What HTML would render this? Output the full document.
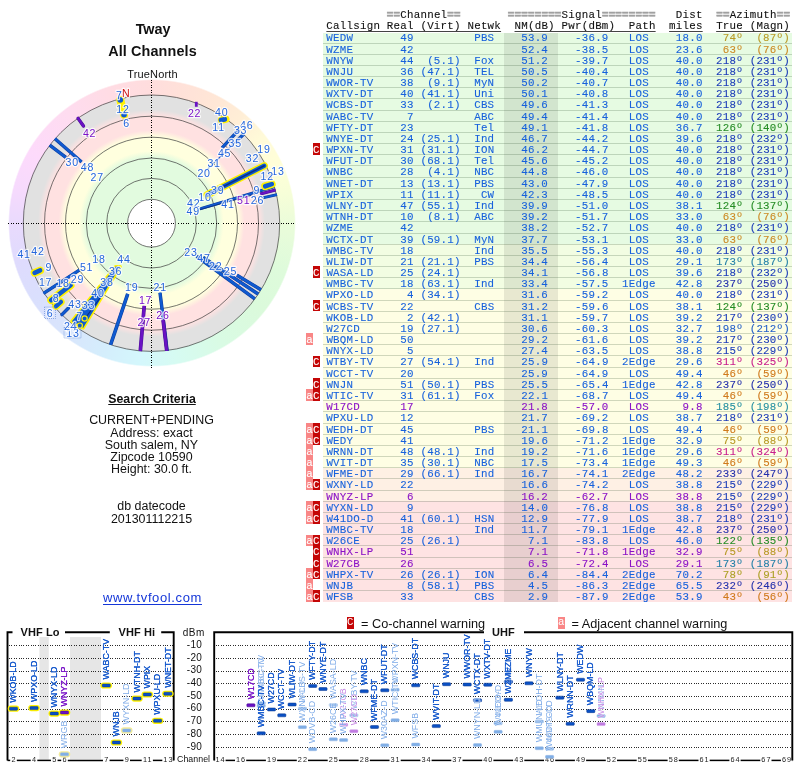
<!DOCTYPE html>
<html><head><meta charset="utf-8"><title>TV Fool - Tway - All Channels</title>
<style>
html,body{margin:0;padding:0;background:#fff}
#pg{will-change:transform;position:relative;width:800px;height:768px;overflow:hidden;background:#fff;font-family:"Liberation Sans", sans-serif;color:#111}
.abs{position:absolute}
.c{position:absolute;left:0;width:303px;text-align:center;white-space:nowrap}
#wheel{position:absolute;left:1.5px;top:73.2px;width:300px;height:300px;border-radius:50%;
background:conic-gradient(from 0deg,#ffdddd 0deg,#ffe1d9 12deg,#ffe7d6 28deg,#ffeed6 40deg,#fffad8 52deg,#ffffd8 66deg,#f6fed8 78deg,#e9fcda 92deg,
#defbdb 110deg,#dbfadb 128deg,#d9fbe4 150deg,#d6fbf2 170deg,#d4f7fc 185deg,#d4eefc 200deg,#d8e6fc 215deg,#dadffd 238deg,
#dfdbfd 254deg,#e9dafd 270deg,#f6dafd 284deg,#fddafb 300deg,#fedcf0 322deg,#ffdce4 342deg,#ffdddd 360deg);
-webkit-mask-image:radial-gradient(circle closest-side,#000 0,#000 94.9%,transparent 95.9%);
mask-image:radial-gradient(circle closest-side,#000 0,#000 94.9%,transparent 95.9%)}
.tr{position:absolute;left:306.2px;height:11.18px;line-height:11.18px;font-family:"Liberation Mono", monospace;font-size:10.8px;letter-spacing:0.24px;white-space:pre;color:#111}
.tr{-webkit-text-stroke:0.1px currentColor}
.tr i{font-style:normal;font-weight:bold;color:#a0a0a0;-webkit-text-stroke:0.7px #a0a0a0}
.tr u{text-decoration:underline;text-underline-offset:1.5px;text-decoration-thickness:0.9px;text-decoration-color:#444}
.hd{color:#111}
.tb{color:#1862dc}
.tp{color:#8a12c6}
.tr b{font-weight:normal;color:#fff}
.fa{background:#f98686}
.fc{background:#c40606}
.lg{position:absolute;width:6.9px;height:11.6px;color:#fff;font-family:"Liberation Mono", monospace;font-size:10.8px;line-height:11.6px;text-align:left;overflow:hidden}
.bg{position:absolute;left:323.1px;width:468.9px}
.ln{position:absolute;left:323.1px;width:469.4px;height:1px;background:rgba(40,70,40,0.21)}
</style></head><body><div id="pg">
<div class="c" style="top:20.6px;left:1.6px;font-size:14.4px;font-weight:bold;line-height:17px">Tway</div>
<div class="c" style="top:42.5px;left:1px;font-size:14.4px;font-weight:bold;line-height:17px;letter-spacing:0.12px">All Channels</div>
<div class="c" style="top:68px;left:1px;font-size:11px;line-height:13px;letter-spacing:0.15px">TrueNorth</div>
<div id="wheel"></div>
<svg class="abs" style="left:0;top:0" width="310" height="384" viewBox="0 0 310 384">
<defs><radialGradient id="zg" gradientUnits="userSpaceOnUse" cx="151.5" cy="223.2" r="129">
<stop offset="0" stop-color="#e2fbdf"/>
<stop offset="0.51" stop-color="#e2fbdf"/>
<stop offset="0.56" stop-color="#ffffde"/>
<stop offset="0.67" stop-color="#ffffde"/>
<stop offset="0.72" stop-color="#ffe1e1"/>
<stop offset="0.83" stop-color="#ffe1e1"/>
<stop offset="0.88" stop-color="#e1e1e1"/>
<stop offset="1" stop-color="#e1e1e1"/>
</radialGradient></defs>
<circle cx="151.5" cy="223.2" r="128" fill="url(#zg)"/>
<circle cx="151.5" cy="223.2" r="23.9" fill="#fff"/>
<circle cx="151.5" cy="223.2" r="23.9" fill="none" stroke="#404040" stroke-width="0.72"/>
<circle cx="151.5" cy="223.2" r="44.8" fill="none" stroke="#404040" stroke-width="0.72"/>
<circle cx="151.5" cy="223.2" r="65.2" fill="none" stroke="#404040" stroke-width="0.72"/>
<circle cx="151.5" cy="223.2" r="86" fill="none" stroke="#404040" stroke-width="0.72"/>
<circle cx="151.5" cy="223.2" r="107" fill="none" stroke="#404040" stroke-width="0.72"/>
<circle cx="151.5" cy="223.2" r="128.2" fill="none" stroke="#404040" stroke-width="0.72"/>
<path d="M8 223.2 H295.5 M151.5 79.5 V367.5" stroke="#000" stroke-width="1" stroke-dasharray="1 1.5" fill="none" shape-rendering="crispEdges"/>
<rect x="194.9" y="101.8" width="2.8" height="5" fill="#6a12c4"/>
<path d="M221.6 120 L225.8 119.2" stroke="#fff200" stroke-width="7.4" stroke-linecap="round"/>
<path d="M221 120 L224.8 119.3" stroke="#0f5ad0" stroke-width="4.8" stroke-linecap="round"/>
<path d="M205.45 171.1 L236.38 141.23" stroke="#0f5ad0" stroke-width="1.1" stroke-linecap="butt" fill="none"/>
<path d="M222.08 147.77 L238.96 129.74" stroke="#0b3a9c" stroke-width="3.3" stroke-linecap="butt" fill="none"/>
<path d="M222.08 147.77 L238.96 129.74" stroke="#0f5ad0" stroke-width="2.3" stroke-linecap="butt" fill="none"/>
<path d="M236.38 141.23 L243.79 134.08" stroke="#0b3a9c" stroke-width="3.3" stroke-linecap="butt" fill="none"/>
<path d="M236.38 141.23 L243.79 134.08" stroke="#0f5ad0" stroke-width="2.3" stroke-linecap="butt" fill="none"/>
<path d="M207.19 194.83 L264.21 165.77" stroke="#fff200" stroke-width="7.4" stroke-linecap="round" fill="none"/>
<path d="M207.19 194.83 L264.21 165.77" stroke="#0f5ad0" stroke-width="4.4" stroke-linecap="round" fill="none"/>
<path d="M222.78 186.88 L264.21 165.77" stroke="#0a2f86" stroke-width="1.5" stroke-linecap="round" fill="none"/>
<path d="M199.8 208.8 L274.64 186.49" stroke="#0b3a9c" stroke-width="2.9" stroke-linecap="butt" fill="none"/>
<path d="M199.8 208.8 L274.64 186.49" stroke="#0f5ad0" stroke-width="1.9" stroke-linecap="butt" fill="none"/>
<path d="M200.04 209.65 L251.67 195.23" stroke="#0a2f86" stroke-width="0.9" stroke-linecap="butt" fill="none"/>
<path d="M262.67 197.94 L277 194.69" stroke="#0b3a9c" stroke-width="2.9" stroke-linecap="butt" fill="none"/>
<path d="M262.67 197.94 L277 194.69" stroke="#0f5ad0" stroke-width="1.9" stroke-linecap="butt" fill="none"/>
<path d="M260.26 194.06 L275.52 189.97" stroke="#4a0c94" stroke-width="3" stroke-linecap="butt" fill="none"/>
<path d="M260.26 194.06 L275.52 189.97" stroke="#6a12c4" stroke-width="2" stroke-linecap="butt" fill="none"/>
<path d="M265.15 186.27 L271.81 184.11" stroke="#fff200" stroke-width="7.8" stroke-linecap="round" fill="none"/>
<path d="M265.15 186.27 L271.81 184.11" stroke="#0f5ad0" stroke-width="4.6" stroke-linecap="round" fill="none"/>
<path d="M124.03 114.62 L120.27 99.79" stroke="#fff200" stroke-width="8" stroke-linecap="round" fill="none"/>
<circle cx="124.03" cy="114.62" r="2.9" fill="#0f5ad0"/>
<circle cx="120.27" cy="99.79" r="2.9" fill="#0f5ad0"/>
<path d="M83.47 126.05 L78.08 118.35" stroke="#4a0c94" stroke-width="3.4" stroke-linecap="round" fill="none"/>
<path d="M83.47 126.05 L78.08 118.35" stroke="#6a12c4" stroke-width="2.4" stroke-linecap="round" fill="none"/>
<path d="M65.82 157.45 L49.71 145.1" stroke="#0b3a9c" stroke-width="3.4" stroke-linecap="butt" fill="none"/>
<path d="M65.82 157.45 L49.71 145.1" stroke="#0f5ad0" stroke-width="2.4" stroke-linecap="butt" fill="none"/>
<path d="M81.53 161.94 L54.97 138.69" stroke="#0b3a9c" stroke-width="3.4" stroke-linecap="butt" fill="none"/>
<path d="M81.53 161.94 L54.97 138.69" stroke="#0f5ad0" stroke-width="2.4" stroke-linecap="butt" fill="none"/>
<path d="M40.12 270.48 L34.6 272.82" stroke="#fff200" stroke-width="7.8" stroke-linecap="round" fill="none"/>
<path d="M40.12 270.48 L34.6 272.82" stroke="#0f5ad0" stroke-width="4.6" stroke-linecap="round" fill="none"/>
<path d="M79.37 270.04 L43.56 293.3" stroke="#0b3a9c" stroke-width="3.3" stroke-linecap="butt" fill="none"/>
<path d="M79.37 270.04 L43.56 293.3" stroke="#0f5ad0" stroke-width="2.3" stroke-linecap="butt" fill="none"/>
<path d="M70.58 285.29 L51.14 300.21" stroke="#fff200" stroke-width="7.8" stroke-linecap="round" fill="none"/>
<path d="M70.58 285.29 L51.14 300.21" stroke="#0f5ad0" stroke-width="4.6" stroke-linecap="round" fill="none"/>
<path d="M60.93 301.93 L56.03 306.19" stroke="#fff200" stroke-width="7.4" stroke-linecap="round" fill="none"/>
<path d="M60.93 301.93 L56.03 306.19" stroke="#0f5ad0" stroke-width="4.4" stroke-linecap="round" fill="none"/>
<path d="M68.24 308.22 L61.94 314.65" stroke="#0b3a9c" stroke-width="3.4" stroke-linecap="round" fill="none"/>
<path d="M68.24 308.22 L61.94 314.65" stroke="#0f5ad0" stroke-width="2.4" stroke-linecap="round" fill="none"/>
<path d="M115.7 266.6 L120.1 266.6 L83.1 327.9 L71.9 321.2 Z" fill="#fff200" stroke="#fff200" stroke-width="3.4" stroke-linejoin="round"/>
<path d="M115.7 266.6 L120.1 266.6 L83.1 327.9 L71.9 321.2 Z" fill="#0f5ad0"/>
<path d="M100 298 L84 320" stroke="#0a2f86" stroke-width="1.2"/>
<circle cx="84.6" cy="318.5" r="2.6" fill="#0f5ad0" stroke="#fff200" stroke-width="1.2"/>
<circle cx="79.8" cy="325.6" r="2.6" fill="#0f5ad0" stroke="#fff200" stroke-width="1.2"/>
<path d="M127.74 293.81 L110.61 344.7" stroke="#0b3a9c" stroke-width="3.6" stroke-linecap="butt" fill="none"/>
<path d="M127.74 293.81 L110.61 344.7" stroke="#0f5ad0" stroke-width="2.6" stroke-linecap="butt" fill="none"/>
<path d="M144.27 305.88 L140.32 351.01" stroke="#4a0c94" stroke-width="3.7" stroke-linecap="butt" fill="none"/>
<path d="M144.27 305.88 L140.32 351.01" stroke="#6a12c4" stroke-width="2.7" stroke-linecap="butt" fill="none"/>
<path d="M160.03 292.68 L167.17 350.84" stroke="#0b3a9c" stroke-width="3.4" stroke-linecap="butt" fill="none"/>
<path d="M160.03 292.68 L167.17 350.84" stroke="#0f5ad0" stroke-width="2.4" stroke-linecap="butt" fill="none"/>
<path d="M162.99 319.52 L166.73 350.9" stroke="#4a0c94" stroke-width="3.6" stroke-linecap="butt" fill="none"/>
<path d="M162.99 319.52 L166.73 350.9" stroke="#6a12c4" stroke-width="2.6" stroke-linecap="butt" fill="none"/>
<path d="M196.69 256.27 L254.79 298.8" stroke="#0b3a9c" stroke-width="3.5" stroke-linecap="butt" fill="none"/>
<path d="M196.69 256.27 L254.79 298.8" stroke="#0f5ad0" stroke-width="2.5" stroke-linecap="butt" fill="none"/>
<path d="M203.14 257.51 L258.11 294.03" stroke="#0b3a9c" stroke-width="3.5" stroke-linecap="butt" fill="none"/>
<path d="M203.14 257.51 L258.11 294.03" stroke="#0f5ad0" stroke-width="2.5" stroke-linecap="butt" fill="none"/>
<path d="M236.95 275.15 L260.87 289.7" stroke="#0b3a9c" stroke-width="3.5" stroke-linecap="butt" fill="none"/>
<path d="M236.95 275.15 L260.87 289.7" stroke="#0f5ad0" stroke-width="2.5" stroke-linecap="butt" fill="none"/>
<g font-family='"Liberation Sans", sans-serif' font-size="10.6" text-anchor="middle" letter-spacing="0.8" stroke="#fff" stroke-opacity="0.78" stroke-width="2.4" stroke-linejoin="round" paint-order="stroke">
<text x="194.6" y="117.3" fill="#7a12c8">22</text>
<text x="221.8" y="116.4" fill="#2466dc">40</text>
<text x="218.6" y="130.8" fill="#2466dc">11</text>
<text x="246.8" y="128.8" fill="#2466dc">46</text>
<text x="240.6" y="133.7" fill="#2466dc">33</text>
<text x="235.3" y="147.1" fill="#2466dc">35</text>
<text x="224.6" y="157.4" fill="#2466dc">45</text>
<text x="214.1" y="167" fill="#2466dc">31</text>
<text x="204.1" y="177.2" fill="#2466dc">20</text>
<text x="263.9" y="153.3" fill="#2466dc">19</text>
<text x="252.5" y="162" fill="#2466dc">32</text>
<text x="277.9" y="175.2" fill="#2466dc">13</text>
<text x="267.2" y="180.4" fill="#2466dc">12</text>
<text x="256.8" y="194" fill="#2466dc">9</text>
<text x="257.4" y="204.1" fill="#2466dc">26</text>
<text x="243.8" y="204.1" fill="#7a12c8">51</text>
<text x="227.9" y="207.8" fill="#2466dc">41</text>
<text x="217.7" y="194" fill="#2466dc">39</text>
<text x="205" y="201.2" fill="#2466dc">10</text>
<text x="193.7" y="207.1" fill="#2466dc">42</text>
<text x="193.3" y="215.2" fill="#2466dc">49</text>
<text x="119.3" y="99.2" fill="#2466dc">7</text>
<text x="126.2" y="97.4" fill="#cc1010">N</text>
<text x="123" y="113" fill="#2466dc">12</text>
<text x="126.5" y="127" fill="#2466dc">6</text>
<text x="89.6" y="136.9" fill="#7a12c8">42</text>
<text x="72.3" y="166.1" fill="#2466dc">30</text>
<text x="87.5" y="170.7" fill="#2466dc">48</text>
<text x="97.3" y="180.5" fill="#2466dc">27</text>
<text x="24.1" y="257.9" fill="#2466dc">41</text>
<text x="38" y="254.9" fill="#2466dc">42</text>
<text x="48.8" y="271.1" fill="#2466dc">9</text>
<text x="45.6" y="286.1" fill="#2466dc">17</text>
<text x="63.1" y="286.5" fill="#2466dc">18</text>
<text x="77.5" y="283.3" fill="#2466dc">29</text>
<text x="86.6" y="271.1" fill="#2466dc">51</text>
<text x="98.9" y="262.9" fill="#2466dc">18</text>
<text x="56" y="302.4" fill="#2466dc">8</text>
<text x="50.1" y="316.7" fill="#2466dc">6</text>
<text x="74.9" y="307.6" fill="#2466dc">43</text>
<text x="123.9" y="263.2" fill="#2466dc">44</text>
<text x="115.6" y="275.2" fill="#2466dc">36</text>
<text x="107" y="286.1" fill="#2466dc">38</text>
<text x="97.9" y="297" fill="#2466dc">40</text>
<text x="88.5" y="309" fill="#2466dc">33</text>
<text x="79.7" y="319.9" fill="#2466dc">7</text>
<text x="72.9" y="336.8" fill="#2466dc">13</text>
<text x="70.8" y="330.4" fill="#2466dc">24</text>
<text x="131.8" y="291" fill="#2466dc">19</text>
<text x="145.6" y="303.6" fill="#7a12c8">17</text>
<text x="144.15" y="325.5" fill="#7a12c8">27</text>
<text x="191" y="256.1" fill="#2466dc">23</text>
<text x="203.9" y="262.3" fill="#2466dc">47</text>
<text x="215.8" y="270.05" fill="#2466dc">22</text>
<text x="230.4" y="275.3" fill="#2466dc">25</text>
<text x="160.2" y="290.5" fill="#2466dc">21</text>
<text x="162.9" y="319.2" fill="#7a12c8">26</text>
</g>
<rect x="44.5" y="307" width="11" height="11.5" fill="none" stroke="#6a8fd8" stroke-width="0.7" stroke-dasharray="1 1"/>
<rect x="64" y="327.5" width="17" height="10.5" fill="none" stroke="#6a8fd8" stroke-width="0.7" stroke-dasharray="1 1"/>
</svg>
<div class="c" style="top:391.5px;left:0.5px;font-size:12.3px;font-weight:bold;line-height:14px;text-decoration:underline;text-underline-offset:1.2px">Search Criteria</div>
<div class="c" style="top:413.2px;font-size:12.45px;line-height:14px">CURRENT+PENDING</div>
<div class="c" style="top:425.5px;font-size:12.45px;line-height:14px">Address: exact</div>
<div class="c" style="top:437.8px;font-size:12.45px;line-height:14px">South salem, NY</div>
<div class="c" style="top:450.1px;font-size:12.45px;line-height:14px">Zipcode 10590</div>
<div class="c" style="top:462.4px;font-size:12.45px;line-height:14px">Height: 30.0 ft.</div>
<div class="c" style="top:499.3px;font-size:12.45px;line-height:14px">db datecode</div>
<div class="c" style="top:511.6px;font-size:12.45px;line-height:14px">201301112215</div>
<div class="c" style="top:589.5px;left:1px;font-size:13px;line-height:15px;letter-spacing:0.62px;color:#1436d8;text-decoration:underline;text-underline-offset:1.5px">www.tvfool.com</div>
<div class="tr hd" style="top:10.2px">            <i>==</i>Channel<i>==</i>       <i>========</i>Signal<i>========</i>   Dist  <i>==</i>Azimuth<i>==</i></div>
<div class="tr hd" style="top:21.4px">   <u>Callsign Real (Virt) Netwk</u>  <u>NM(dB) Pwr(dBm)  Path</u>  <u>miles</u>  <u>True (Magn)</u></div>
<div class="bg" style="top:32.6px;height:10.48px;background:#e6fbe2"></div>
<div class="bg" style="top:43.03px;height:11.23px;background:#e6fbe2"></div>
<div class="bg" style="top:54.2px;height:11.23px;background:#e6fbe2"></div>
<div class="bg" style="top:65.38px;height:11.23px;background:#e6fbe2"></div>
<div class="bg" style="top:76.55px;height:11.23px;background:#e6fbe2"></div>
<div class="bg" style="top:87.73px;height:11.23px;background:#e6fbe2"></div>
<div class="bg" style="top:98.91px;height:11.23px;background:#e6fbe2"></div>
<div class="bg" style="top:110.08px;height:11.23px;background:#e6fbe2"></div>
<div class="bg" style="top:121.26px;height:11.23px;background:#e6fbe2"></div>
<div class="bg" style="top:132.43px;height:11.23px;background:#e6fbe2"></div>
<div class="bg" style="top:143.61px;height:11.23px;background:#e6fbe2"></div>
<div class="bg" style="top:154.79px;height:11.23px;background:#e6fbe2"></div>
<div class="bg" style="top:165.96px;height:11.23px;background:#e6fbe2"></div>
<div class="bg" style="top:177.14px;height:11.23px;background:#e6fbe2"></div>
<div class="bg" style="top:188.31px;height:11.23px;background:#e6fbe2"></div>
<div class="bg" style="top:199.49px;height:11.23px;background:#e6fbe2"></div>
<div class="bg" style="top:210.67px;height:11.23px;background:#e6fbe2"></div>
<div class="bg" style="top:221.84px;height:11.23px;background:#e6fbe2"></div>
<div class="bg" style="top:233.02px;height:11.23px;background:#e6fbe2"></div>
<div class="bg" style="top:244.19px;height:11.23px;background:#f2fde2"></div>
<div class="bg" style="top:255.37px;height:11.23px;background:#f2fde2"></div>
<div class="bg" style="top:266.55px;height:11.23px;background:#f2fde2"></div>
<div class="bg" style="top:277.72px;height:11.23px;background:#f2fde2"></div>
<div class="bg" style="top:288.9px;height:11.23px;background:#fefee4"></div>
<div class="bg" style="top:300.07px;height:11.23px;background:#fefee4"></div>
<div class="bg" style="top:311.25px;height:11.23px;background:#fefee4"></div>
<div class="bg" style="top:322.43px;height:11.23px;background:#fefee4"></div>
<div class="bg" style="top:333.6px;height:11.23px;background:#fefee4"></div>
<div class="bg" style="top:344.78px;height:11.23px;background:#fefee4"></div>
<div class="bg" style="top:355.95px;height:11.23px;background:#fefee4"></div>
<div class="bg" style="top:367.13px;height:11.23px;background:#fefee4"></div>
<div class="bg" style="top:378.31px;height:11.23px;background:#fefee4"></div>
<div class="bg" style="top:389.48px;height:11.23px;background:#fefee4"></div>
<div class="bg" style="top:400.66px;height:11.23px;background:#fefee4"></div>
<div class="bg" style="top:411.83px;height:11.23px;background:#fefee4"></div>
<div class="bg" style="top:423.01px;height:11.23px;background:#fefee4"></div>
<div class="bg" style="top:434.19px;height:11.23px;background:#fefee4"></div>
<div class="bg" style="top:445.36px;height:11.23px;background:#fefee4"></div>
<div class="bg" style="top:456.54px;height:11.23px;background:#fefee4"></div>
<div class="bg" style="top:467.71px;height:11.23px;background:#fef0e4"></div>
<div class="bg" style="top:478.89px;height:11.23px;background:#fef0e4"></div>
<div class="bg" style="top:490.07px;height:11.23px;background:#fef0e4"></div>
<div class="bg" style="top:501.24px;height:11.23px;background:#fee3e3"></div>
<div class="bg" style="top:512.42px;height:11.23px;background:#fee3e3"></div>
<div class="bg" style="top:523.59px;height:11.23px;background:#fee3e3"></div>
<div class="bg" style="top:534.77px;height:11.23px;background:#fee3e3"></div>
<div class="bg" style="top:545.95px;height:11.23px;background:#fee3e3"></div>
<div class="bg" style="top:557.12px;height:11.23px;background:#fee3e3"></div>
<div class="bg" style="top:568.3px;height:11.23px;background:#fee3e3"></div>
<div class="bg" style="top:579.47px;height:11.23px;background:#fee3e3"></div>
<div class="bg" style="top:590.65px;height:11.23px;background:#fee3e3"></div>
<div class="abs" style="left:503.8px;top:32.6px;width:54.3px;height:569.23px;background:rgba(0,0,0,0.085)"></div>
<div class="ln" style="top:42.53px"></div>
<div class="ln" style="top:53.7px"></div>
<div class="ln" style="top:64.88px"></div>
<div class="ln" style="top:76.05px"></div>
<div class="ln" style="top:87.23px"></div>
<div class="ln" style="top:98.41px"></div>
<div class="ln" style="top:109.58px"></div>
<div class="ln" style="top:120.76px"></div>
<div class="ln" style="top:131.93px"></div>
<div class="ln" style="top:143.11px"></div>
<div class="ln" style="top:154.29px"></div>
<div class="ln" style="top:165.46px"></div>
<div class="ln" style="top:176.64px"></div>
<div class="ln" style="top:187.81px"></div>
<div class="ln" style="top:198.99px"></div>
<div class="ln" style="top:210.17px"></div>
<div class="ln" style="top:221.34px"></div>
<div class="ln" style="top:232.52px"></div>
<div class="ln" style="top:243.69px"></div>
<div class="ln" style="top:254.87px"></div>
<div class="ln" style="top:266.05px"></div>
<div class="ln" style="top:277.22px"></div>
<div class="ln" style="top:288.4px"></div>
<div class="ln" style="top:299.57px"></div>
<div class="ln" style="top:310.75px"></div>
<div class="ln" style="top:321.93px"></div>
<div class="ln" style="top:333.1px"></div>
<div class="ln" style="top:344.28px"></div>
<div class="ln" style="top:355.45px"></div>
<div class="ln" style="top:366.63px"></div>
<div class="ln" style="top:377.81px"></div>
<div class="ln" style="top:388.98px"></div>
<div class="ln" style="top:400.16px"></div>
<div class="ln" style="top:411.33px"></div>
<div class="ln" style="top:422.51px"></div>
<div class="ln" style="top:433.69px"></div>
<div class="ln" style="top:444.86px"></div>
<div class="ln" style="top:456.04px"></div>
<div class="ln" style="top:467.21px"></div>
<div class="ln" style="top:478.39px"></div>
<div class="ln" style="top:489.57px"></div>
<div class="ln" style="top:500.74px"></div>
<div class="ln" style="top:511.92px"></div>
<div class="ln" style="top:523.09px"></div>
<div class="ln" style="top:534.27px"></div>
<div class="ln" style="top:545.45px"></div>
<div class="ln" style="top:556.62px"></div>
<div class="ln" style="top:567.8px"></div>
<div class="ln" style="top:578.97px"></div>
<div class="ln" style="top:590.15px"></div>
<div class="tr" style="top:33.35px">   <span class="tb">WEDW       49         PBS    53.9    -36.9   LOS    18.0  </span><span style="color:#b89a26"> 74º  (87º)</span></div>
<div class="tr" style="top:44.53px">   <span class="tb">WZME       42                52.4    -38.5   LOS    23.6  </span><span style="color:#cc8a24"> 63º  (76º)</span></div>
<div class="tr" style="top:55.7px">   <span class="tb">WNYW       44  (5.1)  Fox    51.2    -39.7   LOS    40.0  </span><span style="color:#1c3cb8">218º (231º)</span></div>
<div class="tr" style="top:66.88px">   <span class="tb">WNJU       36 (47.1)  TEL    50.5    -40.4   LOS    40.0  </span><span style="color:#1c3cb8">218º (231º)</span></div>
<div class="tr" style="top:78.05px">   <span class="tb">WWOR-TV    38  (9.1)  MyN    50.2    -40.7   LOS    40.0  </span><span style="color:#1c3cb8">218º (231º)</span></div>
<div class="tr" style="top:89.23px">   <span class="tb">WXTV-DT    40 (41.1)  Uni    50.1    -40.8   LOS    40.0  </span><span style="color:#1c3cb8">218º (231º)</span></div>
<div class="tr" style="top:100.41px">   <span class="tb">WCBS-DT    33  (2.1)  CBS    49.6    -41.3   LOS    40.0  </span><span style="color:#1c3cb8">218º (231º)</span></div>
<div class="tr" style="top:111.58px">   <span class="tb">WABC-TV     7         ABC    49.4    -41.4   LOS    40.0  </span><span style="color:#1c3cb8">218º (231º)</span></div>
<div class="tr" style="top:122.76px">   <span class="tb">WFTY-DT    23         Tel    49.1    -41.8   LOS    36.7  </span><span style="color:#258c25">126º (140º)</span></div>
<div class="tr" style="top:133.93px">   <span class="tb">WNYE-DT    24 (25.1)  Ind    46.7    -44.2   LOS    39.6  </span><span style="color:#1c3cb8">218º (232º)</span></div>
<div class="abs fc" style="left:312.93px;top:143.41px;width:6.88px;height:11.38px"></div>
<div class="tr" style="top:145.11px"> <b>C</b> <span class="tb">WPXN-TV    31 (31.1)  ION    46.2    -44.7   LOS    40.0  </span><span style="color:#1c3cb8">218º (231º)</span></div>
<div class="tr" style="top:156.29px">   <span class="tb">WFUT-DT    30 (68.1)  Tel    45.6    -45.2   LOS    40.0  </span><span style="color:#1c3cb8">218º (231º)</span></div>
<div class="tr" style="top:167.46px">   <span class="tb">WNBC       28  (4.1)  NBC    44.8    -46.0   LOS    40.0  </span><span style="color:#1c3cb8">218º (231º)</span></div>
<div class="tr" style="top:178.64px">   <span class="tb">WNET-DT    13 (13.1)  PBS    43.0    -47.9   LOS    40.0  </span><span style="color:#1c3cb8">218º (231º)</span></div>
<div class="tr" style="top:189.81px">   <span class="tb">WPIX       11 (11.1)   CW    42.3    -48.5   LOS    40.0  </span><span style="color:#1c3cb8">218º (231º)</span></div>
<div class="tr" style="top:200.99px">   <span class="tb">WLNY-DT    47 (55.1)  Ind    39.9    -51.0   LOS    38.1  </span><span style="color:#258c25">124º (137º)</span></div>
<div class="tr" style="top:212.17px">   <span class="tb">WTNH-DT    10  (8.1)  ABC    39.2    -51.7   LOS    33.0  </span><span style="color:#cc8a24"> 63º  (76º)</span></div>
<div class="tr" style="top:223.34px">   <span class="tb">WZME       42                38.2    -52.7   LOS    40.0  </span><span style="color:#1c3cb8">218º (231º)</span></div>
<div class="tr" style="top:234.52px">   <span class="tb">WCTX-DT    39 (59.1)  MyN    37.7    -53.1   LOS    33.0  </span><span style="color:#cc8a24"> 63º  (76º)</span></div>
<div class="tr" style="top:245.69px">   <span class="tb">WMBC-TV    18         Ind    35.5    -55.3   LOS    40.0  </span><span style="color:#1c3cb8">218º (231º)</span></div>
<div class="tr" style="top:256.87px">   <span class="tb">WLIW-DT    21 (21.1)  PBS    34.4    -56.4   LOS    29.1  </span><span style="color:#2480a8">173º (187º)</span></div>
<div class="abs fc" style="left:312.93px;top:266.35px;width:6.88px;height:11.38px"></div>
<div class="tr" style="top:268.05px"> <b>C</b> <span class="tb">WASA-LD    25 (24.1)         34.1    -56.8   LOS    39.6  </span><span style="color:#1c3cb8">218º (232º)</span></div>
<div class="tr" style="top:279.22px">   <span class="tb">WMBC-TV    18 (63.1)  Ind    33.4    -57.5  1Edge   42.8  </span><span style="color:#2430ac">237º (250º)</span></div>
<div class="tr" style="top:290.4px">   <span class="tb">WPXO-LD     4 (34.1)         31.6    -59.2   LOS    40.0  </span><span style="color:#1c3cb8">218º (231º)</span></div>
<div class="abs fc" style="left:312.93px;top:299.87px;width:6.88px;height:11.38px"></div>
<div class="tr" style="top:301.57px"> <b>C</b> <span class="tb">WCBS-TV    22         CBS    31.2    -59.6   LOS    38.1  </span><span style="color:#258c25">124º (137º)</span></div>
<div class="tr" style="top:312.75px">   <span class="tb">WKOB-LD     2 (42.1)         31.1    -59.7   LOS    39.2  </span><span style="color:#1c3cb8">217º (230º)</span></div>
<div class="tr" style="top:323.93px">   <span class="tb">W27CD      19 (27.1)         30.6    -60.3   LOS    32.7  </span><span style="color:#2460c8">198º (212º)</span></div>
<div class="abs fa" style="left:306.25px;top:333.4px;width:6.72px;height:11.38px"></div>
<div class="tr" style="top:335.1px"><b>a</b>  <span class="tb">WBQM-LD    50                29.2    -61.6   LOS    39.2  </span><span style="color:#1c3cb8">217º (230º)</span></div>
<div class="tr" style="top:346.28px">   <span class="tb">WNYX-LD     5                27.4    -63.5   LOS    38.8  </span><span style="color:#1c3cb8">215º (229º)</span></div>
<div class="abs fc" style="left:312.93px;top:355.75px;width:6.88px;height:11.38px"></div>
<div class="tr" style="top:357.45px"> <b>C</b> <span class="tb">WTBY-TV    27 (54.1)  Ind    25.9    -64.9  2Edge   29.6  </span><span style="color:#c81e8c">311º (325º)</span></div>
<div class="tr" style="top:368.63px">   <span class="tb">WCCT-TV    20                25.9    -64.9   LOS    49.4  </span><span style="color:#d07a1c"> 46º  (59º)</span></div>
<div class="abs fc" style="left:312.93px;top:378.11px;width:6.88px;height:11.38px"></div>
<div class="tr" style="top:379.81px"> <b>C</b> <span class="tb">WNJN       51 (50.1)  PBS    25.5    -65.4  1Edge   42.8  </span><span style="color:#2430ac">237º (250º)</span></div>
<div class="abs fa" style="left:306.25px;top:389.28px;width:6.72px;height:11.38px"></div>
<div class="abs fc" style="left:312.93px;top:389.28px;width:6.88px;height:11.38px"></div>
<div class="tr" style="top:390.98px"><b>a</b><b>C</b> <span class="tb">WTIC-TV    31 (61.1)  Fox    22.1    -68.7   LOS    49.4  </span><span style="color:#d07a1c"> 46º  (59º)</span></div>
<div class="tr" style="top:402.16px">   <span class="tp">W17CD      17                21.8    -57.0   LOS     9.8  </span><span style="color:#2590a2">185º (198º)</span></div>
<div class="tr" style="top:413.33px">   <span class="tb">WPXU-LD    12                21.7    -69.2   LOS    38.7  </span><span style="color:#1c3cb8">218º (231º)</span></div>
<div class="abs fa" style="left:306.25px;top:422.81px;width:6.72px;height:11.38px"></div>
<div class="abs fc" style="left:312.93px;top:422.81px;width:6.88px;height:11.38px"></div>
<div class="tr" style="top:424.51px"><b>a</b><b>C</b> <span class="tb">WEDH-DT    45         PBS    21.1    -69.8   LOS    49.4  </span><span style="color:#d07a1c"> 46º  (59º)</span></div>
<div class="abs fa" style="left:306.25px;top:433.99px;width:6.72px;height:11.38px"></div>
<div class="abs fc" style="left:312.93px;top:433.99px;width:6.88px;height:11.38px"></div>
<div class="tr" style="top:435.69px"><b>a</b><b>C</b> <span class="tb">WEDY       41                19.6    -71.2  1Edge   32.9  </span><span style="color:#b89a26"> 75º  (88º)</span></div>
<div class="abs fa" style="left:306.25px;top:445.16px;width:6.72px;height:11.38px"></div>
<div class="tr" style="top:446.86px"><b>a</b>  <span class="tb">WRNN-DT    48 (48.1)  Ind    19.2    -71.6  1Edge   29.6  </span><span style="color:#c81e8c">311º (324º)</span></div>
<div class="abs fa" style="left:306.25px;top:456.34px;width:6.72px;height:11.38px"></div>
<div class="tr" style="top:458.04px"><b>a</b>  <span class="tb">WVIT-DT    35 (30.1)  NBC    17.5    -73.4  1Edge   49.3  </span><span style="color:#d07a1c"> 46º  (59º)</span></div>
<div class="abs fa" style="left:306.25px;top:467.51px;width:6.72px;height:11.38px"></div>
<div class="tr" style="top:469.21px"><b>a</b>  <span class="tb">WFME-DT    29 (66.1)  Ind    16.7    -74.1  2Edge   48.2  </span><span style="color:#2430ac">233º (247º)</span></div>
<div class="abs fa" style="left:306.25px;top:478.69px;width:6.72px;height:11.38px"></div>
<div class="abs fc" style="left:312.93px;top:478.69px;width:6.88px;height:11.38px"></div>
<div class="tr" style="top:480.39px"><b>a</b><b>C</b> <span class="tb">WXNY-LD    22                16.6    -74.2   LOS    38.8  </span><span style="color:#1c3cb8">215º (229º)</span></div>
<div class="tr" style="top:491.57px">   <span class="tp">WNYZ-LP     6                16.2    -62.7   LOS    38.8  </span><span style="color:#1c3cb8">215º (229º)</span></div>
<div class="abs fa" style="left:306.25px;top:501.04px;width:6.72px;height:11.38px"></div>
<div class="abs fc" style="left:312.93px;top:501.04px;width:6.88px;height:11.38px"></div>
<div class="tr" style="top:502.74px"><b>a</b><b>C</b> <span class="tb">WYXN-LD     9                14.0    -76.8   LOS    38.8  </span><span style="color:#1c3cb8">215º (229º)</span></div>
<div class="abs fa" style="left:306.25px;top:512.22px;width:6.72px;height:11.38px"></div>
<div class="abs fc" style="left:312.93px;top:512.22px;width:6.88px;height:11.38px"></div>
<div class="tr" style="top:513.92px"><b>a</b><b>C</b> <span class="tb">W41DO-D    41 (60.1)  HSN    12.9    -77.9   LOS    38.7  </span><span style="color:#1c3cb8">218º (231º)</span></div>
<div class="tr" style="top:525.09px">   <span class="tb">WMBC-TV    18         Ind    11.7    -79.1  1Edge   42.8  </span><span style="color:#2430ac">237º (250º)</span></div>
<div class="abs fa" style="left:306.25px;top:534.57px;width:6.72px;height:11.38px"></div>
<div class="abs fc" style="left:312.93px;top:534.57px;width:6.88px;height:11.38px"></div>
<div class="tr" style="top:536.27px"><b>a</b><b>C</b> <span class="tb">W26CE      25 (26.1)          7.1    -83.8   LOS    46.0  </span><span style="color:#258c25">122º (135º)</span></div>
<div class="abs fc" style="left:312.93px;top:545.75px;width:6.88px;height:11.38px"></div>
<div class="tr" style="top:547.45px"> <b>C</b> <span class="tp">WNHX-LP    51                 7.1    -71.8  1Edge   32.9  </span><span style="color:#b89a26"> 75º  (88º)</span></div>
<div class="abs fc" style="left:312.93px;top:556.92px;width:6.88px;height:11.38px"></div>
<div class="tr" style="top:558.62px"> <b>C</b> <span class="tp">W27CB      26                 6.5    -72.4   LOS    29.1  </span><span style="color:#2480a8">173º (187º)</span></div>
<div class="abs fa" style="left:306.25px;top:568.1px;width:6.72px;height:11.38px"></div>
<div class="abs fc" style="left:312.93px;top:568.1px;width:6.88px;height:11.38px"></div>
<div class="tr" style="top:569.8px"><b>a</b><b>C</b> <span class="tb">WHPX-TV    26 (26.1)  ION     6.4    -84.4  2Edge   70.2  </span><span style="color:#aca024"> 78º  (91º)</span></div>
<div class="abs fa" style="left:306.25px;top:579.27px;width:6.72px;height:11.38px"></div>
<div class="tr" style="top:580.97px"><b>a</b>  <span class="tb">WNJB        8 (58.1)  PBS     4.5    -86.3  2Edge   65.5  </span><span style="color:#2430ac">232º (246º)</span></div>
<div class="abs fa" style="left:306.25px;top:590.45px;width:6.72px;height:11.38px"></div>
<div class="abs fc" style="left:312.93px;top:590.45px;width:6.88px;height:11.38px"></div>
<div class="tr" style="top:592.15px"><b>a</b><b>C</b> <span class="tb">WFSB       33         CBS     2.9    -87.9  2Edge   53.9  </span><span style="color:#d07a1c"> 43º  (56º)</span></div>
<div class="lg fc" style="left:347px;top:617.4px">C</div>
<div class="abs" style="left:361px;top:616.7px;font-size:12.7px;line-height:15px;white-space:nowrap;letter-spacing:0.02px">= Co-channel warning</div>
<div class="lg fa" style="left:558px;top:617.4px">a</div>
<div class="abs" style="left:571.4px;top:616.7px;font-size:12.7px;line-height:15px;white-space:nowrap;letter-spacing:0.02px">= Adjacent channel warning</div>
<svg class="abs" style="left:0;top:608px" width="800" height="160" viewBox="0 608 800 160">
<rect x="39.4" y="637" width="9.4" height="122.5" fill="#e6e6e6"/>
<rect x="70" y="637" width="31" height="122.5" fill="#e6e6e6"/>
<path d="M9 645.6 H173 M216 645.6 H792" stroke="#2a2a2a" stroke-width="1" stroke-dasharray="1 1.4" fill="none" shape-rendering="crispEdges"/>
<path d="M9 658.3 H173 M216 658.3 H792" stroke="#2a2a2a" stroke-width="1" stroke-dasharray="1 1.4" fill="none" shape-rendering="crispEdges"/>
<path d="M9 671 H173 M216 671 H792" stroke="#2a2a2a" stroke-width="1" stroke-dasharray="1 1.4" fill="none" shape-rendering="crispEdges"/>
<path d="M9 683.7 H173 M216 683.7 H792" stroke="#2a2a2a" stroke-width="1" stroke-dasharray="1 1.4" fill="none" shape-rendering="crispEdges"/>
<path d="M9 696.4 H173 M216 696.4 H792" stroke="#2a2a2a" stroke-width="1" stroke-dasharray="1 1.4" fill="none" shape-rendering="crispEdges"/>
<path d="M9 709.1 H173 M216 709.1 H792" stroke="#2a2a2a" stroke-width="1" stroke-dasharray="1 1.4" fill="none" shape-rendering="crispEdges"/>
<path d="M9 721.8 H173 M216 721.8 H792" stroke="#2a2a2a" stroke-width="1" stroke-dasharray="1 1.4" fill="none" shape-rendering="crispEdges"/>
<path d="M9 734.5 H173 M216 734.5 H792" stroke="#2a2a2a" stroke-width="1" stroke-dasharray="1 1.4" fill="none" shape-rendering="crispEdges"/>
<path d="M9 747.2 H173 M216 747.2 H792" stroke="#2a2a2a" stroke-width="1" stroke-dasharray="1 1.4" fill="none" shape-rendering="crispEdges"/>
<path d="M12.5 632.3 H7.5 V760.5" stroke="#000" stroke-width="1.9" fill="none"/>
<path d="M65 632.3 H109.8" stroke="#000" stroke-width="1.9" fill="none"/>
<path d="M161.2 632.3 H173.7 V760.5" stroke="#000" stroke-width="1.9" fill="none"/>
<path d="M214.2 760.5 V632.3 H484" stroke="#000" stroke-width="1.9" fill="none"/>
<path d="M524 632.3 H792.3 V760.5" stroke="#000" stroke-width="1.9" fill="none"/>
<path d="M7.5 760.4 H10.2" stroke="#000" stroke-width="1.5"/>
<path d="M16.8 760.4 H30.7" stroke="#000" stroke-width="1.5"/>
<path d="M37.3 760.4 H50.95" stroke="#000" stroke-width="1.5"/>
<path d="M57.55 760.4 H61.2" stroke="#000" stroke-width="1.5"/>
<path d="M67.8 760.4 H102.95" stroke="#000" stroke-width="1.5"/>
<path d="M109.55 760.4 H123.4" stroke="#000" stroke-width="1.5"/>
<path d="M130 760.4 H141.7" stroke="#000" stroke-width="1.5"/>
<path d="M152.9 760.4 H162.3" stroke="#000" stroke-width="1.5"/>
<path d="M173.5 760.4 H173.7" stroke="#000" stroke-width="1.5"/>
<text x="14" y="762" font-family='"Liberation Sans", sans-serif' font-size="7.3" text-anchor="middle" letter-spacing="1" fill="#222">2</text>
<text x="34.5" y="762" font-family='"Liberation Sans", sans-serif' font-size="7.3" text-anchor="middle" letter-spacing="1" fill="#222">4</text>
<text x="54.75" y="762" font-family='"Liberation Sans", sans-serif' font-size="7.3" text-anchor="middle" letter-spacing="1" fill="#222">5</text>
<text x="65" y="762" font-family='"Liberation Sans", sans-serif' font-size="7.3" text-anchor="middle" letter-spacing="1" fill="#222">6</text>
<text x="106.75" y="762" font-family='"Liberation Sans", sans-serif' font-size="7.3" text-anchor="middle" letter-spacing="1" fill="#222">7</text>
<text x="127.2" y="762" font-family='"Liberation Sans", sans-serif' font-size="7.3" text-anchor="middle" letter-spacing="1" fill="#222">9</text>
<text x="147.8" y="762" font-family='"Liberation Sans", sans-serif' font-size="7.3" text-anchor="middle" letter-spacing="1" fill="#222">11</text>
<text x="168.4" y="762" font-family='"Liberation Sans", sans-serif' font-size="7.3" text-anchor="middle" letter-spacing="1" fill="#222">13</text>
<path d="M214.2 760.4 H214.4" stroke="#000" stroke-width="1.5"/>
<path d="M225.6 760.4 H235" stroke="#000" stroke-width="1.5"/>
<path d="M246.2 760.4 H265.9" stroke="#000" stroke-width="1.5"/>
<path d="M277.1 760.4 H296.8" stroke="#000" stroke-width="1.5"/>
<path d="M308 760.4 H327.7" stroke="#000" stroke-width="1.5"/>
<path d="M338.9 760.4 H358.6" stroke="#000" stroke-width="1.5"/>
<path d="M369.8 760.4 H389.5" stroke="#000" stroke-width="1.5"/>
<path d="M400.7 760.4 H420.4" stroke="#000" stroke-width="1.5"/>
<path d="M431.6 760.4 H451.3" stroke="#000" stroke-width="1.5"/>
<path d="M462.5 760.4 H482.2" stroke="#000" stroke-width="1.5"/>
<path d="M493.4 760.4 H513.1" stroke="#000" stroke-width="1.5"/>
<path d="M524.3 760.4 H544" stroke="#000" stroke-width="1.5"/>
<path d="M555.2 760.4 H574.9" stroke="#000" stroke-width="1.5"/>
<path d="M586.1 760.4 H605.8" stroke="#000" stroke-width="1.5"/>
<path d="M617 760.4 H636.7" stroke="#000" stroke-width="1.5"/>
<path d="M647.9 760.4 H667.6" stroke="#000" stroke-width="1.5"/>
<path d="M678.8 760.4 H698.5" stroke="#000" stroke-width="1.5"/>
<path d="M709.7 760.4 H729.4" stroke="#000" stroke-width="1.5"/>
<path d="M740.6 760.4 H760.3" stroke="#000" stroke-width="1.5"/>
<path d="M771.5 760.4 H780.9" stroke="#000" stroke-width="1.5"/>
<path d="M792.1 760.4 H792.3" stroke="#000" stroke-width="1.5"/>
<text x="220.5" y="762" font-family='"Liberation Sans", sans-serif' font-size="7.3" text-anchor="middle" letter-spacing="1" fill="#222">14</text>
<text x="241.1" y="762" font-family='"Liberation Sans", sans-serif' font-size="7.3" text-anchor="middle" letter-spacing="1" fill="#222">16</text>
<text x="272" y="762" font-family='"Liberation Sans", sans-serif' font-size="7.3" text-anchor="middle" letter-spacing="1" fill="#222">19</text>
<text x="302.9" y="762" font-family='"Liberation Sans", sans-serif' font-size="7.3" text-anchor="middle" letter-spacing="1" fill="#222">22</text>
<text x="333.8" y="762" font-family='"Liberation Sans", sans-serif' font-size="7.3" text-anchor="middle" letter-spacing="1" fill="#222">25</text>
<text x="364.7" y="762" font-family='"Liberation Sans", sans-serif' font-size="7.3" text-anchor="middle" letter-spacing="1" fill="#222">28</text>
<text x="395.6" y="762" font-family='"Liberation Sans", sans-serif' font-size="7.3" text-anchor="middle" letter-spacing="1" fill="#222">31</text>
<text x="426.5" y="762" font-family='"Liberation Sans", sans-serif' font-size="7.3" text-anchor="middle" letter-spacing="1" fill="#222">34</text>
<text x="457.4" y="762" font-family='"Liberation Sans", sans-serif' font-size="7.3" text-anchor="middle" letter-spacing="1" fill="#222">37</text>
<text x="488.3" y="762" font-family='"Liberation Sans", sans-serif' font-size="7.3" text-anchor="middle" letter-spacing="1" fill="#222">40</text>
<text x="519.2" y="762" font-family='"Liberation Sans", sans-serif' font-size="7.3" text-anchor="middle" letter-spacing="1" fill="#222">43</text>
<text x="550.1" y="762" font-family='"Liberation Sans", sans-serif' font-size="7.3" text-anchor="middle" letter-spacing="1" fill="#222">46</text>
<text x="581" y="762" font-family='"Liberation Sans", sans-serif' font-size="7.3" text-anchor="middle" letter-spacing="1" fill="#222">49</text>
<text x="611.9" y="762" font-family='"Liberation Sans", sans-serif' font-size="7.3" text-anchor="middle" letter-spacing="1" fill="#222">52</text>
<text x="642.8" y="762" font-family='"Liberation Sans", sans-serif' font-size="7.3" text-anchor="middle" letter-spacing="1" fill="#222">55</text>
<text x="673.7" y="762" font-family='"Liberation Sans", sans-serif' font-size="7.3" text-anchor="middle" letter-spacing="1" fill="#222">58</text>
<text x="704.6" y="762" font-family='"Liberation Sans", sans-serif' font-size="7.3" text-anchor="middle" letter-spacing="1" fill="#222">61</text>
<text x="735.5" y="762" font-family='"Liberation Sans", sans-serif' font-size="7.3" text-anchor="middle" letter-spacing="1" fill="#222">64</text>
<text x="766.4" y="762" font-family='"Liberation Sans", sans-serif' font-size="7.3" text-anchor="middle" letter-spacing="1" fill="#222">67</text>
<text x="787" y="762" font-family='"Liberation Sans", sans-serif' font-size="7.3" text-anchor="middle" letter-spacing="1" fill="#222">69</text>
<g font-family='"Liberation Sans", sans-serif' font-weight="bold" font-size="11" fill="#111">
<text x="20.5" y="635.8" letter-spacing="0.1">VHF Lo</text>
<text x="118.5" y="635.8" letter-spacing="0.1">VHF Hi</text>
<text x="492" y="635.8" letter-spacing="0.1">UHF</text>
</g>
<g font-family='"Liberation Sans", sans-serif' font-size="10" letter-spacing="0.3" fill="#111">
<text x="182.8" y="635.7" letter-spacing="0.5">dBm</text>
<text x="202.2" y="647.9" text-anchor="end">-10</text>
<text x="202.2" y="660.6" text-anchor="end">-20</text>
<text x="202.2" y="673.3" text-anchor="end">-30</text>
<text x="202.2" y="686" text-anchor="end">-40</text>
<text x="202.2" y="698.7" text-anchor="end">-50</text>
<text x="202.2" y="711.4" text-anchor="end">-60</text>
<text x="202.2" y="724.1" text-anchor="end">-70</text>
<text x="202.2" y="736.8" text-anchor="end">-80</text>
<text x="202.2" y="749.5" text-anchor="end">-90</text>
<text x="177" y="762" font-size="8.8" letter-spacing="0.05">Channel</text>
</g>
<rect x="576.4" y="678.26" width="8.2" height="3" rx="0.9" fill="#0a50c4" stroke="#06348c" stroke-width="0.5"/>
<text transform="translate(583.15 673.76) rotate(-90) scale(0.935 1)" font-family='"Liberation Sans", sans-serif' font-size="9.5" fill="#1458cc" stroke="#fff" stroke-opacity="0.5" stroke-width="1.3" stroke-linejoin="round" paint-order="stroke">WEDW</text>
<text transform="translate(583.15 673.76) rotate(-90) scale(0.935 1)" font-family='"Liberation Sans", sans-serif' font-size="9.5" fill="#1458cc" stroke="#1458cc" stroke-width="0.16">WEDW</text>
<rect x="504.3" y="680.29" width="8.2" height="3" rx="0.9" fill="#0a50c4" stroke="#06348c" stroke-width="0.5"/>
<text transform="translate(511.05 675.79) rotate(-90) scale(0.935 1)" font-family='"Liberation Sans", sans-serif' font-size="9.5" fill="#1458cc" stroke="#fff" stroke-opacity="0.5" stroke-width="1.3" stroke-linejoin="round" paint-order="stroke">WZME</text>
<text transform="translate(511.05 675.79) rotate(-90) scale(0.935 1)" font-family='"Liberation Sans", sans-serif' font-size="9.5" fill="#1458cc" stroke="#1458cc" stroke-width="0.16">WZME</text>
<rect x="524.9" y="681.82" width="8.2" height="3" rx="0.9" fill="#0a50c4" stroke="#06348c" stroke-width="0.5"/>
<text transform="translate(531.65 677.32) rotate(-90) scale(0.935 1)" font-family='"Liberation Sans", sans-serif' font-size="9.5" fill="#1458cc" stroke="#fff" stroke-opacity="0.5" stroke-width="1.3" stroke-linejoin="round" paint-order="stroke">WNYW</text>
<text transform="translate(531.65 677.32) rotate(-90) scale(0.935 1)" font-family='"Liberation Sans", sans-serif' font-size="9.5" fill="#1458cc" stroke="#1458cc" stroke-width="0.16">WNYW</text>
<rect x="442.5" y="682.71" width="8.2" height="3" rx="0.9" fill="#0a50c4" stroke="#06348c" stroke-width="0.5"/>
<text transform="translate(449.25 678.21) rotate(-90) scale(0.935 1)" font-family='"Liberation Sans", sans-serif' font-size="9.5" fill="#1458cc" stroke="#fff" stroke-opacity="0.5" stroke-width="1.3" stroke-linejoin="round" paint-order="stroke">WNJU</text>
<text transform="translate(449.25 678.21) rotate(-90) scale(0.935 1)" font-family='"Liberation Sans", sans-serif' font-size="9.5" fill="#1458cc" stroke="#1458cc" stroke-width="0.16">WNJU</text>
<rect x="463.1" y="683.09" width="8.2" height="3" rx="0.9" fill="#0a50c4" stroke="#06348c" stroke-width="0.5"/>
<text transform="translate(469.85 678.59) rotate(-90) scale(0.935 1)" font-family='"Liberation Sans", sans-serif' font-size="9.5" fill="#1458cc" stroke="#fff" stroke-opacity="0.5" stroke-width="1.3" stroke-linejoin="round" paint-order="stroke">WWOR-TV</text>
<text transform="translate(469.85 678.59) rotate(-90) scale(0.935 1)" font-family='"Liberation Sans", sans-serif' font-size="9.5" fill="#1458cc" stroke="#1458cc" stroke-width="0.16">WWOR-TV</text>
<rect x="483.7" y="683.22" width="8.2" height="3" rx="0.9" fill="#0a50c4" stroke="#06348c" stroke-width="0.5"/>
<text transform="translate(490.45 678.72) rotate(-90) scale(0.935 1)" font-family='"Liberation Sans", sans-serif' font-size="9.5" fill="#1458cc" stroke="#fff" stroke-opacity="0.5" stroke-width="1.3" stroke-linejoin="round" paint-order="stroke">WXTV-DT</text>
<text transform="translate(490.45 678.72) rotate(-90) scale(0.935 1)" font-family='"Liberation Sans", sans-serif' font-size="9.5" fill="#1458cc" stroke="#1458cc" stroke-width="0.16">WXTV-DT</text>
<rect x="411.6" y="683.85" width="8.2" height="3" rx="0.9" fill="#0a50c4" stroke="#06348c" stroke-width="0.5"/>
<text transform="translate(418.35 679.35) rotate(-90) scale(0.935 1)" font-family='"Liberation Sans", sans-serif' font-size="9.5" fill="#1458cc" stroke="#fff" stroke-opacity="0.5" stroke-width="1.3" stroke-linejoin="round" paint-order="stroke">WCBS-DT</text>
<text transform="translate(418.35 679.35) rotate(-90) scale(0.935 1)" font-family='"Liberation Sans", sans-serif' font-size="9.5" fill="#1458cc" stroke="#1458cc" stroke-width="0.16">WCBS-DT</text>
<rect x="100.45" y="682.38" width="11.6" height="6.2" rx="3.1" fill="#fff200"/>
<rect x="102.15" y="683.98" width="8.2" height="3" rx="0.9" fill="#0a50c4" stroke="#06348c" stroke-width="0.5"/>
<text transform="translate(108.9 679.48) rotate(-90) scale(0.935 1)" font-family='"Liberation Sans", sans-serif' font-size="9.5" fill="#1458cc" stroke="#fff" stroke-opacity="0.5" stroke-width="1.3" stroke-linejoin="round" paint-order="stroke">WABC-TV</text>
<text transform="translate(108.9 679.48) rotate(-90) scale(0.935 1)" font-family='"Liberation Sans", sans-serif' font-size="9.5" fill="#1458cc" stroke="#1458cc" stroke-width="0.16">WABC-TV</text>
<rect x="308.6" y="684.49" width="8.2" height="3" rx="0.9" fill="#0a50c4" stroke="#06348c" stroke-width="0.5"/>
<text transform="translate(315.35 679.99) rotate(-90) scale(0.935 1)" font-family='"Liberation Sans", sans-serif' font-size="9.5" fill="#1458cc" stroke="#fff" stroke-opacity="0.5" stroke-width="1.3" stroke-linejoin="round" paint-order="stroke">WFTY-DT</text>
<text transform="translate(315.35 679.99) rotate(-90) scale(0.935 1)" font-family='"Liberation Sans", sans-serif' font-size="9.5" fill="#1458cc" stroke="#1458cc" stroke-width="0.16">WFTY-DT</text>
<rect x="318.9" y="687.53" width="8.2" height="3" rx="0.9" fill="#0a50c4" stroke="#06348c" stroke-width="0.5"/>
<text transform="translate(325.65 683.03) rotate(-90) scale(0.935 1)" font-family='"Liberation Sans", sans-serif' font-size="9.5" fill="#1458cc" stroke="#fff" stroke-opacity="0.5" stroke-width="1.3" stroke-linejoin="round" paint-order="stroke">WNYE-DT</text>
<text transform="translate(325.65 683.03) rotate(-90) scale(0.935 1)" font-family='"Liberation Sans", sans-serif' font-size="9.5" fill="#1458cc" stroke="#1458cc" stroke-width="0.16">WNYE-DT</text>
<rect x="391" y="688.17" width="8.2" height="3" rx="0.9" fill="#7faee6" stroke="#9abbe6" stroke-width="0.5"/>
<text transform="translate(397.75 683.67) rotate(-90) scale(0.935 1)" font-family='"Liberation Sans", sans-serif' font-size="9.5" fill="#7eabe8" stroke="#fff" stroke-opacity="0.5" stroke-width="1.3" stroke-linejoin="round" paint-order="stroke">WPXN-TV</text>
<rect x="380.7" y="688.8" width="8.2" height="3" rx="0.9" fill="#0a50c4" stroke="#06348c" stroke-width="0.5"/>
<text transform="translate(387.45 684.3) rotate(-90) scale(0.935 1)" font-family='"Liberation Sans", sans-serif' font-size="9.5" fill="#1458cc" stroke="#fff" stroke-opacity="0.5" stroke-width="1.3" stroke-linejoin="round" paint-order="stroke">WFUT-DT</text>
<text transform="translate(387.45 684.3) rotate(-90) scale(0.935 1)" font-family='"Liberation Sans", sans-serif' font-size="9.5" fill="#1458cc" stroke="#1458cc" stroke-width="0.16">WFUT-DT</text>
<rect x="360.1" y="689.82" width="8.2" height="3" rx="0.9" fill="#0a50c4" stroke="#06348c" stroke-width="0.5"/>
<text transform="translate(366.85 685.32) rotate(-90) scale(0.935 1)" font-family='"Liberation Sans", sans-serif' font-size="9.5" fill="#1458cc" stroke="#fff" stroke-opacity="0.5" stroke-width="1.3" stroke-linejoin="round" paint-order="stroke">WNBC</text>
<text transform="translate(366.85 685.32) rotate(-90) scale(0.935 1)" font-family='"Liberation Sans", sans-serif' font-size="9.5" fill="#1458cc" stroke="#1458cc" stroke-width="0.16">WNBC</text>
<rect x="162.1" y="690.63" width="11.6" height="6.2" rx="3.1" fill="#fff200"/>
<rect x="163.8" y="692.23" width="8.2" height="3" rx="0.9" fill="#0a50c4" stroke="#06348c" stroke-width="0.5"/>
<text transform="translate(170.55 687.73) rotate(-90) scale(0.935 1)" font-family='"Liberation Sans", sans-serif' font-size="9.5" fill="#1458cc" stroke="#fff" stroke-opacity="0.5" stroke-width="1.3" stroke-linejoin="round" paint-order="stroke">WNET-DT</text>
<text transform="translate(170.55 687.73) rotate(-90) scale(0.935 1)" font-family='"Liberation Sans", sans-serif' font-size="9.5" fill="#1458cc" stroke="#1458cc" stroke-width="0.16">WNET-DT</text>
<rect x="141.5" y="691.39" width="11.6" height="6.2" rx="3.1" fill="#fff200"/>
<rect x="143.2" y="693" width="8.2" height="3" rx="0.9" fill="#0a50c4" stroke="#06348c" stroke-width="0.5"/>
<text transform="translate(149.95 688.5) rotate(-90) scale(0.935 1)" font-family='"Liberation Sans", sans-serif' font-size="9.5" fill="#1458cc" stroke="#fff" stroke-opacity="0.5" stroke-width="1.3" stroke-linejoin="round" paint-order="stroke">WPIX</text>
<text transform="translate(149.95 688.5) rotate(-90) scale(0.935 1)" font-family='"Liberation Sans", sans-serif' font-size="9.5" fill="#1458cc" stroke="#1458cc" stroke-width="0.16">WPIX</text>
<rect x="555.8" y="696.17" width="8.2" height="3" rx="0.9" fill="#0a50c4" stroke="#06348c" stroke-width="0.5"/>
<text transform="translate(562.55 691.67) rotate(-90) scale(0.935 1)" font-family='"Liberation Sans", sans-serif' font-size="9.5" fill="#1458cc" stroke="#fff" stroke-opacity="0.5" stroke-width="1.3" stroke-linejoin="round" paint-order="stroke">WLNY-DT</text>
<text transform="translate(562.55 691.67) rotate(-90) scale(0.935 1)" font-family='"Liberation Sans", sans-serif' font-size="9.5" fill="#1458cc" stroke="#1458cc" stroke-width="0.16">WLNY-DT</text>
<rect x="131.2" y="695.46" width="11.6" height="6.2" rx="3.1" fill="#fff200"/>
<rect x="132.9" y="697.06" width="8.2" height="3" rx="0.9" fill="#0a50c4" stroke="#06348c" stroke-width="0.5"/>
<text transform="translate(139.65 692.56) rotate(-90) scale(0.935 1)" font-family='"Liberation Sans", sans-serif' font-size="9.5" fill="#1458cc" stroke="#fff" stroke-opacity="0.5" stroke-width="1.3" stroke-linejoin="round" paint-order="stroke">WTNH-DT</text>
<text transform="translate(139.65 692.56) rotate(-90) scale(0.935 1)" font-family='"Liberation Sans", sans-serif' font-size="9.5" fill="#1458cc" stroke="#1458cc" stroke-width="0.16">WTNH-DT</text>
<rect x="504.3" y="698.33" width="8.2" height="3" rx="0.9" fill="#0a50c4" stroke="#06348c" stroke-width="0.5"/>
<text transform="translate(511.05 693.83) rotate(-90) scale(0.935 1)" font-family='"Liberation Sans", sans-serif' font-size="9.5" fill="#1458cc" stroke="#fff" stroke-opacity="0.5" stroke-width="1.3" stroke-linejoin="round" paint-order="stroke">WZME</text>
<text transform="translate(511.05 693.83) rotate(-90) scale(0.935 1)" font-family='"Liberation Sans", sans-serif' font-size="9.5" fill="#1458cc" stroke="#1458cc" stroke-width="0.16">WZME</text>
<rect x="473.4" y="698.84" width="8.2" height="3" rx="0.9" fill="#0a50c4" stroke="#06348c" stroke-width="0.5"/>
<text transform="translate(480.15 694.34) rotate(-90) scale(0.935 1)" font-family='"Liberation Sans", sans-serif' font-size="9.5" fill="#1458cc" stroke="#fff" stroke-opacity="0.5" stroke-width="1.3" stroke-linejoin="round" paint-order="stroke">WCTX-DT</text>
<text transform="translate(480.15 694.34) rotate(-90) scale(0.935 1)" font-family='"Liberation Sans", sans-serif' font-size="9.5" fill="#1458cc" stroke="#1458cc" stroke-width="0.16">WCTX-DT</text>
<rect x="257.1" y="701.63" width="8.2" height="3" rx="0.9" fill="#7faee6" stroke="#9abbe6" stroke-width="0.5"/>
<text transform="translate(263.85 697.13) rotate(-90) scale(0.935 1)" font-family='"Liberation Sans", sans-serif' font-size="9.5" fill="#7eabe8" stroke="#fff" stroke-opacity="0.5" stroke-width="1.3" stroke-linejoin="round" paint-order="stroke">WMBC-TV</text>
<rect x="288" y="703.03" width="8.2" height="3" rx="0.9" fill="#0a50c4" stroke="#06348c" stroke-width="0.5"/>
<text transform="translate(294.75 698.53) rotate(-90) scale(0.935 1)" font-family='"Liberation Sans", sans-serif' font-size="9.5" fill="#1458cc" stroke="#fff" stroke-opacity="0.5" stroke-width="1.3" stroke-linejoin="round" paint-order="stroke">WLIW-DT</text>
<text transform="translate(294.75 698.53) rotate(-90) scale(0.935 1)" font-family='"Liberation Sans", sans-serif' font-size="9.5" fill="#1458cc" stroke="#1458cc" stroke-width="0.16">WLIW-DT</text>
<rect x="329.2" y="703.54" width="8.2" height="3" rx="0.9" fill="#7faee6" stroke="#9abbe6" stroke-width="0.5"/>
<text transform="translate(335.95 699.04) rotate(-90) scale(0.935 1)" font-family='"Liberation Sans", sans-serif' font-size="9.5" fill="#7eabe8" stroke="#fff" stroke-opacity="0.5" stroke-width="1.3" stroke-linejoin="round" paint-order="stroke">WASA-LD</text>
<rect x="246.8" y="703.79" width="8.2" height="3" rx="0.9" fill="#6a10c4" stroke="#44088a" stroke-width="0.5"/>
<text transform="translate(253.55 699.29) rotate(-90) scale(0.935 1)" font-family='"Liberation Sans", sans-serif' font-size="9.5" fill="#7a14c8" stroke="#fff" stroke-opacity="0.5" stroke-width="1.3" stroke-linejoin="round" paint-order="stroke">W17CD</text>
<text transform="translate(253.55 699.29) rotate(-90) scale(0.935 1)" font-family='"Liberation Sans", sans-serif' font-size="9.5" fill="#7a14c8" stroke="#7a14c8" stroke-width="0.16">W17CD</text>
<rect x="257.1" y="704.42" width="8.2" height="3" rx="0.9" fill="#7faee6" stroke="#9abbe6" stroke-width="0.5"/>
<text transform="translate(263.85 699.92) rotate(-90) scale(0.935 1)" font-family='"Liberation Sans", sans-serif' font-size="9.5" fill="#7eabe8" stroke="#fff" stroke-opacity="0.5" stroke-width="1.3" stroke-linejoin="round" paint-order="stroke">WMBC-TV</text>
<rect x="28.2" y="704.98" width="11.6" height="6.2" rx="3.1" fill="#fff200"/>
<rect x="29.9" y="706.58" width="8.2" height="3" rx="0.9" fill="#0a50c4" stroke="#06348c" stroke-width="0.5"/>
<text transform="translate(36.65 702.08) rotate(-90) scale(0.935 1)" font-family='"Liberation Sans", sans-serif' font-size="9.5" fill="#1458cc" stroke="#fff" stroke-opacity="0.5" stroke-width="1.3" stroke-linejoin="round" paint-order="stroke">WPXO-LD</text>
<text transform="translate(36.65 702.08) rotate(-90) scale(0.935 1)" font-family='"Liberation Sans", sans-serif' font-size="9.5" fill="#1458cc" stroke="#1458cc" stroke-width="0.16">WPXO-LD</text>
<rect x="298.3" y="707.09" width="8.2" height="3" rx="0.9" fill="#7faee6" stroke="#9abbe6" stroke-width="0.5"/>
<text transform="translate(305.05 702.59) rotate(-90) scale(0.935 1)" font-family='"Liberation Sans", sans-serif' font-size="9.5" fill="#7eabe8" stroke="#fff" stroke-opacity="0.5" stroke-width="1.3" stroke-linejoin="round" paint-order="stroke">WCBS-TV</text>
<rect x="7.7" y="705.62" width="11.6" height="6.2" rx="3.1" fill="#fff200"/>
<rect x="9.4" y="707.22" width="8.2" height="3" rx="0.9" fill="#0a50c4" stroke="#06348c" stroke-width="0.5"/>
<text transform="translate(16.15 702.72) rotate(-90) scale(0.935 1)" font-family='"Liberation Sans", sans-serif' font-size="9.5" fill="#1458cc" stroke="#fff" stroke-opacity="0.5" stroke-width="1.3" stroke-linejoin="round" paint-order="stroke">WKOB-LD</text>
<text transform="translate(16.15 702.72) rotate(-90) scale(0.935 1)" font-family='"Liberation Sans", sans-serif' font-size="9.5" fill="#1458cc" stroke="#1458cc" stroke-width="0.16">WKOB-LD</text>
<rect x="267.4" y="707.98" width="8.2" height="3" rx="0.9" fill="#0a50c4" stroke="#06348c" stroke-width="0.5"/>
<text transform="translate(274.15 703.48) rotate(-90) scale(0.935 1)" font-family='"Liberation Sans", sans-serif' font-size="9.5" fill="#1458cc" stroke="#fff" stroke-opacity="0.5" stroke-width="1.3" stroke-linejoin="round" paint-order="stroke">W27CD</text>
<text transform="translate(274.15 703.48) rotate(-90) scale(0.935 1)" font-family='"Liberation Sans", sans-serif' font-size="9.5" fill="#1458cc" stroke="#1458cc" stroke-width="0.16">W27CD</text>
<rect x="586.7" y="709.63" width="8.2" height="3" rx="0.9" fill="#0a50c4" stroke="#06348c" stroke-width="0.5"/>
<text transform="translate(593.45 705.13) rotate(-90) scale(0.935 1)" font-family='"Liberation Sans", sans-serif' font-size="9.5" fill="#1458cc" stroke="#fff" stroke-opacity="0.5" stroke-width="1.3" stroke-linejoin="round" paint-order="stroke">WBQM-LD</text>
<text transform="translate(593.45 705.13) rotate(-90) scale(0.935 1)" font-family='"Liberation Sans", sans-serif' font-size="9.5" fill="#1458cc" stroke="#1458cc" stroke-width="0.16">WBQM-LD</text>
<rect x="58.7" y="709.43" width="11.6" height="6.2" rx="3.1" fill="#fff200"/>
<rect x="60.4" y="711.03" width="8.2" height="3" rx="0.9" fill="#6a10c4" stroke="#44088a" stroke-width="0.5"/>
<text transform="translate(67.15 706.53) rotate(-90) scale(0.935 1)" font-family='"Liberation Sans", sans-serif' font-size="9.5" fill="#7a14c8" stroke="#fff" stroke-opacity="0.5" stroke-width="1.3" stroke-linejoin="round" paint-order="stroke">WNYZ-LP</text>
<text transform="translate(67.15 706.53) rotate(-90) scale(0.935 1)" font-family='"Liberation Sans", sans-serif' font-size="9.5" fill="#7a14c8" stroke="#7a14c8" stroke-width="0.16">WNYZ-LP</text>
<rect x="48.45" y="710.44" width="11.6" height="6.2" rx="3.1" fill="#fff200"/>
<rect x="50.15" y="712.04" width="8.2" height="3" rx="0.9" fill="#0a50c4" stroke="#06348c" stroke-width="0.5"/>
<text transform="translate(56.9 707.54) rotate(-90) scale(0.935 1)" font-family='"Liberation Sans", sans-serif' font-size="9.5" fill="#1458cc" stroke="#fff" stroke-opacity="0.5" stroke-width="1.3" stroke-linejoin="round" paint-order="stroke">WNYX-LD</text>
<text transform="translate(56.9 707.54) rotate(-90) scale(0.935 1)" font-family='"Liberation Sans", sans-serif' font-size="9.5" fill="#1458cc" stroke="#1458cc" stroke-width="0.16">WNYX-LD</text>
<rect x="277.7" y="713.82" width="8.2" height="3" rx="0.9" fill="#0a50c4" stroke="#06348c" stroke-width="0.5"/>
<text transform="translate(284.45 709.32) rotate(-90) scale(0.935 1)" font-family='"Liberation Sans", sans-serif' font-size="9.5" fill="#1458cc" stroke="#fff" stroke-opacity="0.5" stroke-width="1.3" stroke-linejoin="round" paint-order="stroke">WCCT-TV</text>
<text transform="translate(284.45 709.32) rotate(-90) scale(0.935 1)" font-family='"Liberation Sans", sans-serif' font-size="9.5" fill="#1458cc" stroke="#1458cc" stroke-width="0.16">WCCT-TV</text>
<rect x="349.8" y="713.82" width="8.2" height="3" rx="0.9" fill="#7faee6" stroke="#9abbe6" stroke-width="0.5"/>
<text transform="translate(356.55 709.32) rotate(-90) scale(0.935 1)" font-family='"Liberation Sans", sans-serif' font-size="9.5" fill="#7eabe8" stroke="#fff" stroke-opacity="0.5" stroke-width="1.3" stroke-linejoin="round" paint-order="stroke">WTBY-TV</text>
<rect x="597" y="714.46" width="8.2" height="3" rx="0.9" fill="#7faee6" stroke="#9abbe6" stroke-width="0.5"/>
<text transform="translate(603.75 709.96) rotate(-90) scale(0.935 1)" font-family='"Liberation Sans", sans-serif' font-size="9.5" fill="#7eabe8" stroke="#fff" stroke-opacity="0.5" stroke-width="1.3" stroke-linejoin="round" paint-order="stroke">WNJN</text>
<rect x="391" y="718.65" width="8.2" height="3" rx="0.9" fill="#7faee6" stroke="#9abbe6" stroke-width="0.5"/>
<text transform="translate(397.75 714.15) rotate(-90) scale(0.935 1)" font-family='"Liberation Sans", sans-serif' font-size="9.5" fill="#7eabe8" stroke="#fff" stroke-opacity="0.5" stroke-width="1.3" stroke-linejoin="round" paint-order="stroke">WTIC-TV</text>
<rect x="151.8" y="717.68" width="11.6" height="6.2" rx="3.1" fill="#fff200"/>
<rect x="153.5" y="719.28" width="8.2" height="3" rx="0.9" fill="#0a50c4" stroke="#06348c" stroke-width="0.5"/>
<text transform="translate(160.25 714.78) rotate(-90) scale(0.935 1)" font-family='"Liberation Sans", sans-serif' font-size="9.5" fill="#1458cc" stroke="#fff" stroke-opacity="0.5" stroke-width="1.3" stroke-linejoin="round" paint-order="stroke">WPXU-LD</text>
<text transform="translate(160.25 714.78) rotate(-90) scale(0.935 1)" font-family='"Liberation Sans", sans-serif' font-size="9.5" fill="#1458cc" stroke="#1458cc" stroke-width="0.16">WPXU-LD</text>
<rect x="535.2" y="720.05" width="8.2" height="3" rx="0.9" fill="#7faee6" stroke="#9abbe6" stroke-width="0.5"/>
<text transform="translate(541.95 715.55) rotate(-90) scale(0.935 1)" font-family='"Liberation Sans", sans-serif' font-size="9.5" fill="#7eabe8" stroke="#fff" stroke-opacity="0.5" stroke-width="1.3" stroke-linejoin="round" paint-order="stroke">WEDH-DT</text>
<rect x="494" y="721.82" width="8.2" height="3" rx="0.9" fill="#7faee6" stroke="#9abbe6" stroke-width="0.5"/>
<text transform="translate(500.75 717.32) rotate(-90) scale(0.935 1)" font-family='"Liberation Sans", sans-serif' font-size="9.5" fill="#7eabe8" stroke="#fff" stroke-opacity="0.5" stroke-width="1.3" stroke-linejoin="round" paint-order="stroke">WEDY</text>
<rect x="566.1" y="722.33" width="8.2" height="3" rx="0.9" fill="#0a50c4" stroke="#06348c" stroke-width="0.5"/>
<text transform="translate(572.85 717.83) rotate(-90) scale(0.935 1)" font-family='"Liberation Sans", sans-serif' font-size="9.5" fill="#1458cc" stroke="#fff" stroke-opacity="0.5" stroke-width="1.3" stroke-linejoin="round" paint-order="stroke">WRNN-DT</text>
<text transform="translate(572.85 717.83) rotate(-90) scale(0.935 1)" font-family='"Liberation Sans", sans-serif' font-size="9.5" fill="#1458cc" stroke="#1458cc" stroke-width="0.16">WRNN-DT</text>
<rect x="597" y="722.59" width="8.2" height="3" rx="0.9" fill="#c07ae0" stroke="#cfa0e6" stroke-width="0.5"/>
<text transform="translate(603.75 718.09) rotate(-90) scale(0.935 1)" font-family='"Liberation Sans", sans-serif' font-size="9.5" fill="#c88ae4" stroke="#fff" stroke-opacity="0.5" stroke-width="1.3" stroke-linejoin="round" paint-order="stroke">WNHX-LP</text>
<rect x="339.5" y="723.35" width="8.2" height="3" rx="0.9" fill="#c07ae0" stroke="#cfa0e6" stroke-width="0.5"/>
<text transform="translate(346.25 718.85) rotate(-90) scale(0.935 1)" font-family='"Liberation Sans", sans-serif' font-size="9.5" fill="#c88ae4" stroke="#fff" stroke-opacity="0.5" stroke-width="1.3" stroke-linejoin="round" paint-order="stroke">W27CB</text>
<rect x="432.2" y="724.62" width="8.2" height="3" rx="0.9" fill="#0a50c4" stroke="#06348c" stroke-width="0.5"/>
<text transform="translate(438.95 720.12) rotate(-90) scale(0.935 1)" font-family='"Liberation Sans", sans-serif' font-size="9.5" fill="#1458cc" stroke="#fff" stroke-opacity="0.5" stroke-width="1.3" stroke-linejoin="round" paint-order="stroke">WVIT-DT</text>
<text transform="translate(438.95 720.12) rotate(-90) scale(0.935 1)" font-family='"Liberation Sans", sans-serif' font-size="9.5" fill="#1458cc" stroke="#1458cc" stroke-width="0.16">WVIT-DT</text>
<rect x="370.4" y="725.51" width="8.2" height="3" rx="0.9" fill="#0a50c4" stroke="#06348c" stroke-width="0.5"/>
<text transform="translate(377.15 721.01) rotate(-90) scale(0.935 1)" font-family='"Liberation Sans", sans-serif' font-size="9.5" fill="#1458cc" stroke="#fff" stroke-opacity="0.5" stroke-width="1.3" stroke-linejoin="round" paint-order="stroke">WFME-DT</text>
<text transform="translate(377.15 721.01) rotate(-90) scale(0.935 1)" font-family='"Liberation Sans", sans-serif' font-size="9.5" fill="#1458cc" stroke="#1458cc" stroke-width="0.16">WFME-DT</text>
<rect x="298.3" y="725.63" width="8.2" height="3" rx="0.9" fill="#7faee6" stroke="#9abbe6" stroke-width="0.5"/>
<text transform="translate(305.05 721.13) rotate(-90) scale(0.935 1)" font-family='"Liberation Sans", sans-serif' font-size="9.5" fill="#7eabe8" stroke="#fff" stroke-opacity="0.5" stroke-width="1.3" stroke-linejoin="round" paint-order="stroke">WXNY-LD</text>
<rect x="120.9" y="727.34" width="11.6" height="6.2" rx="3.1" fill="#f4ec9a"/>
<rect x="122.6" y="728.94" width="8.2" height="3" rx="0.9" fill="#7faee6" stroke="#9abbe6" stroke-width="0.5"/>
<text transform="translate(129.35 724.44) rotate(-90) scale(0.935 1)" font-family='"Liberation Sans", sans-serif' font-size="9.5" fill="#7eabe8" stroke="#fff" stroke-opacity="0.5" stroke-width="1.3" stroke-linejoin="round" paint-order="stroke">WYXN-LD</text>
<rect x="349.8" y="729.7" width="8.2" height="3" rx="0.9" fill="#c07ae0" stroke="#cfa0e6" stroke-width="0.5"/>
<text transform="translate(356.55 725.2) rotate(-90) scale(0.935 1)" font-family='"Liberation Sans", sans-serif' font-size="9.5" fill="#c88ae4" stroke="#fff" stroke-opacity="0.5" stroke-width="1.3" stroke-linejoin="round" paint-order="stroke">W27CD</text>
<rect x="494" y="730.33" width="8.2" height="3" rx="0.9" fill="#7faee6" stroke="#9abbe6" stroke-width="0.5"/>
<text transform="translate(500.75 725.83) rotate(-90) scale(0.935 1)" font-family='"Liberation Sans", sans-serif' font-size="9.5" fill="#7eabe8" stroke="#fff" stroke-opacity="0.5" stroke-width="1.3" stroke-linejoin="round" paint-order="stroke">W41DO-D</text>
<rect x="257.1" y="731.86" width="8.2" height="3" rx="0.9" fill="#0a50c4" stroke="#06348c" stroke-width="0.5"/>
<text transform="translate(263.85 727.36) rotate(-90) scale(0.935 1)" font-family='"Liberation Sans", sans-serif' font-size="9.5" fill="#1458cc" stroke="#fff" stroke-opacity="0.5" stroke-width="1.3" stroke-linejoin="round" paint-order="stroke">WMBC-TV</text>
<text transform="translate(263.85 727.36) rotate(-90) scale(0.935 1)" font-family='"Liberation Sans", sans-serif' font-size="9.5" fill="#1458cc" stroke="#1458cc" stroke-width="0.16">WMBC-TV</text>
<rect x="329.2" y="737.83" width="8.2" height="3" rx="0.9" fill="#7faee6" stroke="#9abbe6" stroke-width="0.5"/>
<text transform="translate(335.95 733.33) rotate(-90) scale(0.935 1)" font-family='"Liberation Sans", sans-serif' font-size="9.5" fill="#7eabe8" stroke="#fff" stroke-opacity="0.5" stroke-width="1.3" stroke-linejoin="round" paint-order="stroke">W26CE</text>
<rect x="339.5" y="738.59" width="8.2" height="3" rx="0.9" fill="#7faee6" stroke="#9abbe6" stroke-width="0.5"/>
<text transform="translate(346.25 734.09) rotate(-90) scale(0.935 1)" font-family='"Liberation Sans", sans-serif' font-size="9.5" fill="#7eabe8" stroke="#fff" stroke-opacity="0.5" stroke-width="1.3" stroke-linejoin="round" paint-order="stroke">WHPX-TV</text>
<rect x="110.6" y="739.4" width="11.6" height="6.2" rx="3.1" fill="#fff200"/>
<rect x="112.3" y="741" width="8.2" height="3" rx="0.9" fill="#0a50c4" stroke="#06348c" stroke-width="0.5"/>
<text transform="translate(119.05 736.5) rotate(-90) scale(0.935 1)" font-family='"Liberation Sans", sans-serif' font-size="9.5" fill="#1458cc" stroke="#fff" stroke-opacity="0.5" stroke-width="1.3" stroke-linejoin="round" paint-order="stroke">WNJB</text>
<text transform="translate(119.05 736.5) rotate(-90) scale(0.935 1)" font-family='"Liberation Sans", sans-serif' font-size="9.5" fill="#1458cc" stroke="#1458cc" stroke-width="0.16">WNJB</text>
<rect x="411.6" y="743.03" width="8.2" height="3" rx="0.9" fill="#7faee6" stroke="#9abbe6" stroke-width="0.5"/>
<text transform="translate(418.35 738.53) rotate(-90) scale(0.935 1)" font-family='"Liberation Sans", sans-serif' font-size="9.5" fill="#7eabe8" stroke="#fff" stroke-opacity="0.5" stroke-width="1.3" stroke-linejoin="round" paint-order="stroke">WFSB</text>
<rect x="473.4" y="743.54" width="8.2" height="3" rx="0.9" fill="#7faee6" stroke="#9abbe6" stroke-width="0.5"/>
<text transform="translate(480.15 739.04) rotate(-90) scale(0.935 1)" font-family='"Liberation Sans", sans-serif' font-size="9.5" fill="#7eabe8" stroke="#fff" stroke-opacity="0.5" stroke-width="1.3" stroke-linejoin="round" paint-order="stroke">WNYN-LD</text>
<rect x="380.7" y="743.79" width="8.2" height="3" rx="0.9" fill="#7faee6" stroke="#9abbe6" stroke-width="0.5"/>
<text transform="translate(387.45 739.29) rotate(-90) scale(0.935 1)" font-family='"Liberation Sans", sans-serif' font-size="9.5" fill="#7eabe8" stroke="#fff" stroke-opacity="0.5" stroke-width="1.3" stroke-linejoin="round" paint-order="stroke">W30AZ-D</text>
<rect x="535.2" y="746.72" width="8.2" height="3" rx="0.9" fill="#7faee6" stroke="#9abbe6" stroke-width="0.5"/>
<text transform="translate(541.95 742.22) rotate(-90) scale(0.935 1)" font-family='"Liberation Sans", sans-serif' font-size="9.5" fill="#7eabe8" stroke="#fff" stroke-opacity="0.5" stroke-width="1.3" stroke-linejoin="round" paint-order="stroke">WMUN-LD</text>
<rect x="545.5" y="747.22" width="8.2" height="3" rx="0.9" fill="#7faee6" stroke="#9abbe6" stroke-width="0.5"/>
<text transform="translate(552.25 742.72) rotate(-90) scale(0.935 1)" font-family='"Liberation Sans", sans-serif' font-size="9.5" fill="#7eabe8" stroke="#fff" stroke-opacity="0.5" stroke-width="1.3" stroke-linejoin="round" paint-order="stroke">WNYS-CD</text>
<rect x="308.6" y="747.73" width="8.2" height="3" rx="0.9" fill="#7faee6" stroke="#9abbe6" stroke-width="0.5"/>
<text transform="translate(315.35 743.23) rotate(-90) scale(0.935 1)" font-family='"Liberation Sans", sans-serif' font-size="9.5" fill="#7eabe8" stroke="#fff" stroke-opacity="0.5" stroke-width="1.3" stroke-linejoin="round" paint-order="stroke">WDVB-CD</text>
<rect x="58.7" y="751.21" width="11.6" height="6.2" rx="3.1" fill="#f4ec9a"/>
<rect x="60.4" y="752.81" width="8.2" height="3" rx="0.9" fill="#7faee6" stroke="#9abbe6" stroke-width="0.5"/>
<text transform="translate(67.15 748.31) rotate(-90) scale(0.935 1)" font-family='"Liberation Sans", sans-serif' font-size="9.5" fill="#7eabe8" stroke="#fff" stroke-opacity="0.5" stroke-width="1.3" stroke-linejoin="round" paint-order="stroke">WRGB</text>
<rect x="545.5" y="755.35" width="8.2" height="3" rx="0.9" fill="#7faee6" stroke="#9abbe6" stroke-width="0.5"/>
<text transform="translate(552.25 750.85) rotate(-90) scale(0.935 1)" font-family='"Liberation Sans", sans-serif' font-size="9.5" fill="#7eabe8" stroke="#fff" stroke-opacity="0.5" stroke-width="1.3" stroke-linejoin="round" paint-order="stroke">W46DT-CD</text>
</svg>
</div></body></html>
